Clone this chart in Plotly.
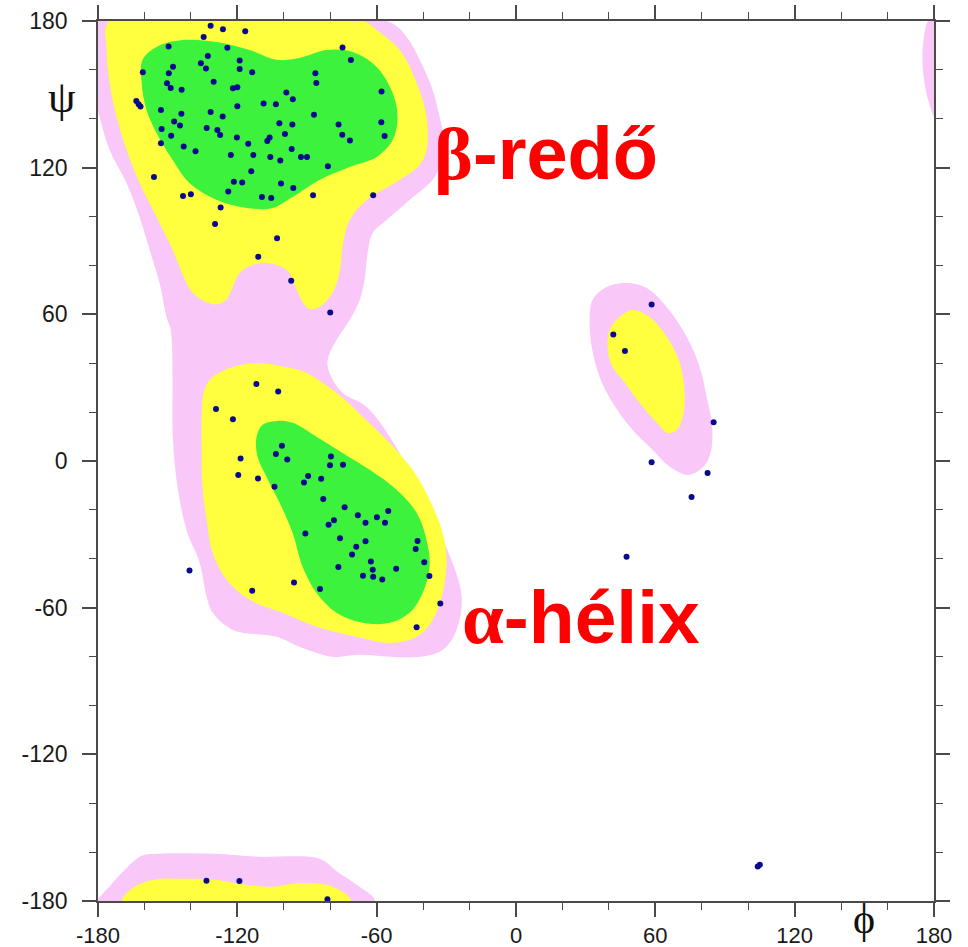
import plotly.graph_objects as go

# ---------------- data (degrees) ----------------
tick_vals = [-180, -120, -60, 0, 60, 120, 180]
tick_text = ["-180", "-120", "-60", "0", "60", "120", "180"]

# Region outlines (phi, psi)
pink_main_phi = [-180, -55.7, -47.1, -41.5, -35.9, -32.9, -30.8, -32.5, -36.0, -45.8, -55.7, -61.7, -63.9, -65.2,
                 -67.3, -71.6, -77.3, -81.1, -80.3, -74.7, -64.3, -50.1, -37.2, -27.3, -23.4, -25.6, -31.6,
                 -41.5, -54.4, -67.3, -79.0, -93.2, -103.1, -122.0, -130.6, -133.2, -136.2, -141.9, -146.2,
                 -147.9, -147.9, -148.7, -150.5, -153.5, -157.8, -162.1, -167.7, -175.0, -179.3, -180]
pink_main_psi = [180, 180, 173.5, 164.1, 151.8, 140.7, 130.1, 121.1, 115.0, 106.8, 98.6, 93.3, 85.1, 74.1,
                 65.9, 57.7, 49.5, 41.4, 36.0, 27.9, 22.1, 3.3, -21.2, -41.7, -55.6, -69.1, -77.3,
                 -80.1, -80.1, -79.3, -80.1, -76.0, -71.9, -69.1, -62.1, -55.6, -41.7, -28.2, -7.7,
                 12.7, 33.2, 53.6, 58.9, 72.8, 86.4, 99.8, 113.7, 127.2, 140.7, 143.6]

yellow_beta_phi = [-175, -66, -60, -50.1, -42.8, -38.5, -38.5, -41.5, -50.1, -64.3, -71.6, -74.7, -75.9, -79.0,
                   -84.6, -88.9, -92.4, -95.3, -98.8, -107.4, -113.4, -119.0, -124.6, -128.9, -133.2, -139.3,
                   -141.9, -147.9, -154.8, -162.1, -167.7, -172.0, -175.0, -176.3]
yellow_beta_psi = [180, 180, 176.3, 168.1, 154.7, 140.7, 127.2, 121.1, 115.0, 106.8, 98.6, 87.6, 77.5, 68.8,
                   63.0, 62.2, 65.9, 72.0, 78.2, 81.0, 80.2, 76.9, 66.2, 64.1, 64.9, 68.8,
                   72.8, 86.4, 99.8, 113.7, 127.2, 140.7, 154.7, 168.1]

green_beta_phi = [-160.8, -154.8, -143.6, -128.9, -114.7, -103.1, -93.2, -81.6, -70.3, -60.0, -53.1, -51.0, -53.1,
                  -60.0, -71.6, -84.6, -96.2, -104.8, -116.0, -128.9, -140.6, -147.9, -154.8, -159.1, -161.2]
green_beta_psi = [164.1, 169.4, 172.2, 171.4, 168.1, 164.1, 164.9, 168.1, 167.3, 161.2, 150.5, 140.7, 131.3,
                  124.4, 120.3, 115.0, 108.0, 103.5, 103.5, 106.8, 113.7, 123.2, 134.2, 143.6, 154.7]

yellow_alpha_phi = [-134.5, -132.0, -127.0, -120.0, -110.4, -97.5, -90.2, -77.3, -66.0, -54.4, -44.5, -37.2,
                    -31.6, -29.9, -31.6, -35.9, -42.8, -54.4, -68.6, -85.9, -100.5, -114.7, -124.6, -130.6,
                    -133.2, -135.0, -135.4, -135.3]
yellow_alpha_psi = [28.0, 33.0, 36.5, 39.0, 40.0, 38.1, 36.0, 27.9, 18.1, 7.4, -3.6, -15.9,
                    -29.4, -40.4, -54.0, -65.0, -71.9, -74.4, -71.9, -67.8, -62.1, -56.8, -48.6, -37.6,
                    -24.1, -10.6, 7.4, 20.0]

green_alpha_phi = [-111.7, -109.1, -103.1, -96.2, -85.9, -74.7, -63.0, -51.4, -42.8, -38.5, -37.2, -40.2, -45.8,
                   -54.4, -66.0, -77.3, -85.9, -91.9, -96.2, -101.8, -107.4, -111.3]
green_alpha_psi = [9.9, 14.8, 16.4, 15.6, 9.9, 3.3, -3.6, -11.8, -21.2, -32.3, -43.3, -54.0, -62.1,
                   -66.2, -66.2, -62.1, -54.0, -43.3, -29.4, -17.1, -6.5, 1.7]

pink_left_phi = [31.7, 33.0, 39.0, 47.6, 56.3, 64.9, 73.5, 79.1, 82.1, 84.3, 84.3, 82.1, 77.8, 73.5, 66.2, 58.8,
                 50.2, 41.6, 36.0, 32.6]
pink_left_psi = [57.7, 66.0, 71.2, 72.8, 70.8, 63.0, 50.8, 38.5, 26.3, 15.6, 5.8, -0.7, -4.5, -5.7, -2.4, 4.6,
                 12.7, 23.8, 34.4, 46.7]

yellow_left_phi = [39.5, 40.3, 44.6, 50.2, 57.5, 64.9, 70.5, 72.6, 71.8, 69.2, 65.3, 60.6, 53.2, 45.9, 41.6]
yellow_left_psi = [45.4, 53.6, 58.9, 61.8, 58.9, 50.8, 40.2, 27.9, 18.1, 12.7, 11.5, 15.6, 23.8, 33.2, 38.5]

pink_bottom_phi = [-180, -178, -175.9, -169.4, -161.2, -153.5, -129.8, -111.3, -84.6, -76.8, -68.6, -60.9]
pink_bottom_psi = [-180, -177, -175.0, -168.1, -161.5, -160.7, -160.7, -161.9, -162.7, -168.1, -173.4, -180]

yellow_bottom_phi = [-169.4, -165.5, -156.1, -142.7, -129.8, -116.4, -105.7, -95.3, -84.6, -76.8, -71.2]
yellow_bottom_psi = [-180, -175.0, -171.3, -170.9, -171.3, -173.4, -174.2, -172.9, -172.9, -175.0, -180]

pink_wrap_phi = [180, 177.5, 175.5, 175, 176, 178, 180]
pink_wrap_psi = [180, 180, 172, 164, 154, 146, 141]

# Residues (phi, psi)
beta_phi = [-131.5, -126.2, -116.6, -134.5, -149.6, -124.3, -74.7, -132.7, -135.7, -133.5, -119.0, -71.1,
            -147.7, -160.7, -119.0, -113.6, -149.5, -86.4, -150.3, -148.7, -144.0, -130.2, -121.9, -120.0,
            -86.0, -98.9, -96.1, -57.9, -163.5, -162.5, -161.7, -152.9, -144.1, -131.5, -126.3, -120.0,
            -108.7, -103.4, -87.0, -147.2, -144.7, -152.6, -133.2, -128.6, -127.4, -101.9, -96.3, -76.4,
            -58.0, -148.5, -120.2, -106.1, -107.1, -99.5, -74.8, -71.5, -56.6, -152.9, -143.1, -138.0,
            -115.3, -96.6, -122.8, -113.1, -105.8, -101.5, -92.6, -90.0, -81.0, -155.9, -114.0, -121.5,
            -117.9, -101.2, -95.9, -123.9, -143.4, -140.0, -109.4, -105.4, -87.4, -61.5, -127.2, -129.6,
            -102.9, -111.0, -96.8, -80.0]
beta_psi = [178.1, 176.6, 175.8, 173.5, 169.6, 169.1, 169.2, 165.7, 162.7, 160.6, 163.8, 164.0,
            161.3, 159.0, 160.4, 159.0, 158.6, 158.6, 154.5, 152.6, 151.9, 155.1, 152.5, 152.9,
            154.6, 150.7, 148.0, 151.2, 147.3, 145.9, 145.0, 143.6, 142.1, 142.8, 140.9, 145.1,
            146.3, 145.9, 141.6, 138.9, 137.3, 135.8, 136.2, 135.4, 133.4, 138.2, 137.7, 137.7,
            138.6, 133.1, 132.3, 132.3, 130.9, 133.8, 133.5, 131.1, 133.0, 130.0, 128.7, 126.7,
            129.8, 127.6, 125.2, 125.2, 124.4, 122.9, 124.4, 124.4, 120.6, 116.2, 118.5, 114.2,
            113.9, 113.5, 111.7, 110.3, 108.4, 109.1, 108.0, 107.6, 108.7, 108.7, 103.7, 97.0,
            91.1, 83.6, 73.7, 60.8]

alpha_phi = [-111.8, -102.4, -129.2, -121.9, -118.6, -119.6, -111.1, -100.8, -103.4, -98.5, -104.0, -79.7,
             -80.1, -74.5, -89.5, -91.3, -83.9, -83.0, -73.8, -68.1, -59.9, -55.0, -56.4, -64.8,
             -78.4, -80.7, -90.7, -75.8, -64.8, -68.8, -70.6, -76.5, -62.5, -61.7, -65.9, -61.5,
             -57.6, -51.6, -42.4, -43.2, -39.5, -37.3, -32.6, -42.8, -140.6, -113.6, -95.6, -84.4]
alpha_psi = [31.5, 28.4, 21.3, 17.1, 1.0, -5.7, -7.2, 6.2, 2.9, 0.6, -10.5, 1.8,
             -1.7, -1.5, -6.1, -8.8, -7.3, -15.5, -18.9, -22.2, -23.0, -20.5, -25.3, -25.3,
             -24.2, -26.1, -29.7, -31.6, -32.8, -35.1, -38.3, -43.4, -41.1, -44.5, -46.9, -47.4,
             -48.5, -44.1, -32.7, -36.0, -41.4, -47.0, -58.3, -68.0, -44.8, -53.1, -49.7, -52.4]

other_phi = [58.4, 41.9, 46.9, 85.1, 58.4, 82.5, 75.6, 47.6, 104.1, 105.0, -133.3, -119.1, -81.2]
other_psi = [64.0, 51.7, 45.0, 15.9, -0.5, -4.9, -14.7, -39.2, -165.9, -165.2, -171.7, -171.8, -179.3]

# ---------------- styles ----------------
PINK = "#F9C8F9"
YELLOW = "#FFFF40"
GREEN = "#3CF23C"
DOT = "#0A0A8C"
AXIS = "#4a4a4a"

fig = go.Figure()


def region(xs, ys, color):
    fig.add_trace(go.Scatter(
        x=list(xs) + [xs[0]], y=list(ys) + [ys[0]], mode="lines", fill="toself",
        fillcolor=color, line=dict(color=color, width=0, shape="spline", smoothing=1.0),
        hoverinfo="skip", showlegend=False))


region(pink_main_phi, pink_main_psi, PINK)
region(pink_left_phi, pink_left_psi, PINK)
region(pink_bottom_phi, pink_bottom_psi, PINK)
region(pink_wrap_phi, pink_wrap_psi, PINK)
region(yellow_beta_phi, yellow_beta_psi, YELLOW)
region(yellow_alpha_phi, yellow_alpha_psi, YELLOW)
region(yellow_left_phi, yellow_left_psi, YELLOW)
region(yellow_bottom_phi, yellow_bottom_psi, YELLOW)
region(green_beta_phi, green_beta_psi, GREEN)
region(green_alpha_phi, green_alpha_psi, GREEN)

fig.add_trace(go.Scatter(
    x=beta_phi + alpha_phi + other_phi, y=beta_psi + alpha_psi + other_psi,
    mode="markers", marker=dict(color=DOT, size=6, line=dict(width=0)),
    cliponaxis=False, showlegend=False, hoverinfo="skip"))

axis_common = dict(
    range=[-180, 180], tickvals=tick_vals, ticktext=tick_text, showgrid=False, zeroline=False,
    showline=True, linecolor=AXIS, linewidth=1.5, mirror="allticks", ticks="outside", ticklen=14,
    tickwidth=1.5, tickcolor=AXIS, automargin=False,
    minor=dict(dtick=20, tick0=-180, ticks="outside", ticklen=7, tickwidth=1.3, tickcolor=AXIS),
)

fig.update_xaxes(**axis_common, ticklabelstandoff=0,
                 tickfont=dict(family="Liberation Sans, Arial, sans-serif", size=22, color="#1a1a1a"))
fig.update_yaxes(**axis_common, ticklabelstandoff=10,
                 tickfont=dict(family="Liberation Sans, Arial, sans-serif", size=23, color="#1a1a1a"))

fig.update_layout(
    width=968, height=947, margin=dict(l=98, r=34, t=21, b=46, autoexpand=False),
    paper_bgcolor="white", plot_bgcolor="white", showlegend=False,
)

SERIF = "Liberation Serif, DejaVu Serif, serif"
fig.add_annotation(
    x=-36.3, y=126, xref="x", yref="y", xanchor="left", yanchor="middle", showarrow=False,
    text="<b><span style=\"font-family:" + SERIF + "\">β</span>-redő</b>",
    font=dict(family="Liberation Sans, Arial, sans-serif", size=74, color="#FF0000"))
fig.add_annotation(
    x=-24.3, y=-64, xref="x", yref="y", xanchor="left", yanchor="middle", showarrow=False,
    text="<b><span style=\"font-family:" + SERIF + "\">α</span>-hélix</b>",
    font=dict(family="Liberation Sans, Arial, sans-serif", size=75, color="#FF0000"))
fig.add_annotation(
    x=-0.043, y=0.913, xref="paper", yref="paper", xanchor="center", yanchor="middle",
    showarrow=False, text="ψ", font=dict(family=SERIF, size=44, color="#111111"))
fig.add_annotation(
    x=0.916, y=-0.021, xref="paper", yref="paper", xanchor="center", yanchor="middle",
    showarrow=False, text="ϕ", font=dict(family=SERIF, size=42, color="#111111"))

fig.write_html("out.html", config={"displayModeBar": False},
               post_script="document.body.style.margin='0';document.body.style.overflow='hidden';")
